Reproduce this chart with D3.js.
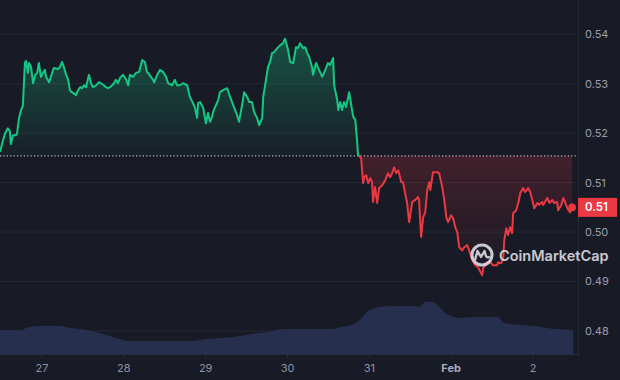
<!DOCTYPE html>
<html><head><meta charset="utf-8">
<script src="https://cdn.jsdelivr.net/npm/d3@7/dist/d3.min.js"></script>
<style>
html,body{margin:0;padding:0;background:#181a25;}
svg{display:block;font-family:Inter,"Noto Sans",sans-serif;}
</style></head><body>
<svg id="chart" width="620" height="380"></svg>
<script>
// ---- data ----
const startTime = new Date(2025, 0, 26, 11, 41); // first sample
const priceHours = [0.0,0.9,1.5,2.3,2.9,3.2,3.8,4.7,5.0,5.6,6.2,6.7,7.3,7.6,8.2,8.5,9.1,9.7,10.3,10.9,11.4,12.0,12.6,13.2,13.5,14.4,15.3,15.8,17.0,17.6,18.2,18.8,19.4,20.0,20.5,21.1,22.3,22.9,23.5,24.1,24.6,25.2,26.1,26.7,27.3,28.2,29.0,29.6,30.5,31.1,31.7,32.3,32.9,33.4,34.0,34.6,35.2,36.1,37.0,37.6,38.1,39.0,39.9,40.8,41.7,42.5,43.1,43.4,44.9,45.2,46.1,46.9,47.8,48.7,49.3,50.5,51.3,51.9,52.8,53.7,54.9,55.7,56.6,57.2,57.8,58.1,58.7,59.6,60.4,61.0,61.6,62.2,62.5,63.1,64.0,64.5,65.4,66.6,67.5,68.4,69.5,70.1,71.0,71.6,72.5,73.1,73.9,74.5,75.4,76.0,76.9,77.2,78.0,78.6,79.2,79.8,80.4,81.3,82.2,83.0,83.6,84.5,85.1,86.0,86.8,87.4,88.0,88.9,89.5,90.1,90.7,91.5,91.8,92.7,93.3,94.5,95.4,96.2,96.8,97.7,98.0,98.9,99.2,99.8,100.3,100.9,101.5,102.4,103.0,103.6,104.2,104.7,105.0,105.9,106.5,106.8,107.4,108.0,108.6,109.1,109.4,110.0,110.6,111.2,112.1,113.0,113.8,114.4,115.0,115.6,116.2,116.8,117.7,118.2,118.8,119.4,120.0,120.9,121.8,122.6,122.9,123.5,124.1,124.7,125.3,125.9,126.2,127.0,128.2,128.8,129.7,130.3,130.9,131.4,132.3,132.9,133.5,134.1,134.7,135.6,135.8,137.0,137.6,138.5,139.4,140.2,141.4,141.7,142.9,143.8,144.6,145.8,146.1,147.0,147.6,147.9,148.5,149.0,149.6,150.2,150.5,151.4,152.0,152.6,153.4,154.0,154.9,155.5,156.1,156.7,157.6,158.1,159.0,159.3,160.5,161.1,162.0,162.5,163.4,163.7,164.6,165.2,165.8,166.4,167.2,167.8];
const prices = [0.5162,0.5186,0.5200,0.5210,0.5204,0.5178,0.5196,0.5196,0.5200,0.5231,0.5247,0.5255,0.5342,0.5346,0.5322,0.5342,0.5334,0.5301,0.5318,0.5322,0.5342,0.5314,0.5322,0.5328,0.5314,0.5303,0.5322,0.5332,0.5330,0.5334,0.5344,0.5332,0.5318,0.5308,0.5287,0.5283,0.5277,0.5287,0.5293,0.5291,0.5297,0.5293,0.5318,0.5301,0.5293,0.5297,0.5303,0.5301,0.5297,0.5293,0.5291,0.5293,0.5297,0.5301,0.5308,0.5301,0.5312,0.5318,0.5308,0.5297,0.5318,0.5314,0.5322,0.5324,0.5348,0.5344,0.5324,0.5322,0.5308,0.5303,0.5318,0.5328,0.5324,0.5314,0.5301,0.5297,0.5308,0.5297,0.5297,0.5301,0.5297,0.5273,0.5261,0.5251,0.5231,0.5261,0.5263,0.5251,0.5220,0.5241,0.5223,0.5233,0.5243,0.5253,0.5267,0.5283,0.5287,0.5291,0.5273,0.5257,0.5237,0.5223,0.5257,0.5283,0.5273,0.5263,0.5263,0.5243,0.5231,0.5216,0.5231,0.5273,0.5308,0.5334,0.5344,0.5362,0.5364,0.5372,0.5378,0.5382,0.5391,0.5368,0.5344,0.5342,0.5374,0.5372,0.5382,0.5372,0.5374,0.5362,0.5354,0.5334,0.5318,0.5342,0.5332,0.5314,0.5328,0.5342,0.5338,0.5352,0.5297,0.5267,0.5247,0.5263,0.5247,0.5263,0.5253,0.5283,0.5257,0.5233,0.5227,0.5186,0.5156,0.5150,0.5099,0.5111,0.5115,0.5099,0.5109,0.5101,0.5061,0.5091,0.5059,0.5089,0.5095,0.5105,0.5119,0.5111,0.5119,0.5131,0.5119,0.5125,0.5101,0.5101,0.5079,0.5059,0.5020,0.5061,0.5065,0.5071,0.5065,0.4990,0.5030,0.5040,0.5085,0.5101,0.5085,0.5121,0.5121,0.5119,0.5091,0.5065,0.5030,0.5020,0.5034,0.5028,0.5010,0.5000,0.4969,0.4963,0.4967,0.4974,0.4963,0.4943,0.4933,0.4929,0.4913,0.4927,0.4939,0.4939,0.4933,0.4933,0.4939,0.4937,0.4949,0.4984,0.5008,0.4994,0.5010,0.4998,0.5038,0.5044,0.5059,0.5079,0.5089,0.5081,0.5089,0.5081,0.5065,0.5048,0.5059,0.5055,0.5061,0.5055,0.5069,0.5059,0.5065,0.5059,0.5061,0.5044,0.5055,0.5069,0.5059,0.5048,0.5040,0.5050];
const openPrice = 0.5154;      // dotted reference line (price 7 days ago)
const lastPriceLabel = "0.51";
const volumeHours = [0,6.5,8.2,11.7,17.3,20.8,25.5,30.2,34.9,37.3,55.7,60.4,68.4,74.2,80.1,83.6,97.4,99.8,103.3,105.6,108.0,111.5,115.9,121.8,122.9,124.7,127.0,128.8,131.1,134.7,139.1,146.1,147.9,156.7,160.2,168.1];
const volumes = [24,24,27,28,28,26,24,20,15,13,13,15,17,20,23,25,25,27,29,34,43,47,48,48,47,52,52,47,40,36,37,37,31,28,26,24]; // $M
const yTicks = [0.48,0.49,0.50,0.51,0.52,0.53,0.54];
const xTickDates = [new Date(2025,0,27),new Date(2025,0,28),new Date(2025,0,29),new Date(2025,0,30),new Date(2025,0,31),new Date(2025,1,1),new Date(2025,1,2)];
const xTickLabels = ["27","28","29","30","31","Feb","2"];

// ---- setup ----
const svg = d3.select("#chart");
const plotRight = 578, plotBottom = 354;
const GREEN = "#16c784", RED = "#ea3943";

const toDate = h => new Date(startTime.getTime() + h * 3600e3);
const x = d3.scaleTime().domain([new Date(2025,0,27), new Date(2025,1,2)]).range([42, 533]);
const y = d3.scaleLinear().domain([0.48, 0.54]).range([331, 34.3]);
const yv = d3.scaleLinear().domain([0, 100]).range([plotBottom, plotBottom - 100]);

const pts = priceHours.map((h, i) => ({t: toDate(h), p: prices[i]}));
const vpts = volumeHours.map((h, i) => ({t: toDate(h), v: volumes[i]}));
const yBase = y(openPrice);

const defs = svg.append("defs");
const gG = defs.append("linearGradient").attr("id","gGreen").attr("gradientUnits","userSpaceOnUse")
  .attr("x1",0).attr("x2",0).attr("y1",40).attr("y2",yBase);
gG.append("stop").attr("offset","0%").attr("stop-color",GREEN).attr("stop-opacity",0.32);
gG.append("stop").attr("offset","100%").attr("stop-color",GREEN).attr("stop-opacity",0.03);
const gR = defs.append("linearGradient").attr("id","gRed").attr("gradientUnits","userSpaceOnUse")
  .attr("x1",0).attr("x2",0).attr("y1",yBase).attr("y2",275);
gR.append("stop").attr("offset","0%").attr("stop-color",RED).attr("stop-opacity",0.2);
gR.append("stop").attr("offset","100%").attr("stop-color",RED).attr("stop-opacity",0.0);
defs.append("clipPath").attr("id","cAbove").append("rect").attr("x",0).attr("y",0).attr("width",plotRight).attr("height",yBase);
defs.append("clipPath").attr("id","cBelow").append("rect").attr("x",0).attr("y",yBase).attr("width",plotRight).attr("height",plotBottom-yBase);

// grid
svg.append("g").selectAll("line").data(yTicks).join("line")
  .attr("x1",0).attr("x2",plotRight).attr("y1",d=>y(d)).attr("y2",d=>y(d))
  .attr("stroke","#252836").attr("stroke-width",1);

// volume
svg.append("path").datum(vpts)
  .attr("d", d3.area().x(d=>x(d.t)).y0(plotBottom).y1(d=>yv(d.v)).curve(d3.curveMonotoneX))
  .attr("fill","#272f4f");

// frame lines
svg.append("line").attr("x1",0).attr("x2",plotRight).attr("y1",plotBottom+0.5).attr("y2",plotBottom+0.5).attr("stroke","#2a2d3a");
svg.append("line").attr("x1",plotRight+0.5).attr("x2",plotRight+0.5).attr("y1",0).attr("y2",plotBottom+2).attr("stroke","#252836");

// areas
const area = d3.area().x(d=>x(d.t)).y0(yBase).y1(d=>y(d.p));
svg.append("path").datum(pts).attr("d",area).attr("fill","url(#gGreen)").attr("clip-path","url(#cAbove)");
svg.append("path").datum(pts).attr("d",area).attr("fill","url(#gRed)").attr("clip-path","url(#cBelow)");

// baseline dotted
svg.append("line").attr("x1",0).attr("x2",plotRight).attr("y1",yBase).attr("y2",yBase)
  .attr("stroke","#b8bcc8").attr("stroke-width",1.2).attr("stroke-dasharray","1.2,2.2");

// lines
const line = d3.line().x(d=>x(d.t)).y(d=>y(d.p));
svg.append("path").datum(pts).attr("d",line).attr("fill","none").attr("stroke",GREEN).attr("stroke-width",2).attr("stroke-linejoin","round").attr("clip-path","url(#cAbove)");
svg.append("path").datum(pts).attr("d",line).attr("fill","none").attr("stroke",RED).attr("stroke-width",2).attr("stroke-linejoin","round").attr("clip-path","url(#cBelow)");

// last point dot
const last = pts[pts.length-1];
svg.append("circle").attr("cx",x(last.t)).attr("cy",y(last.p)).attr("r",3.8).attr("fill",RED);

// watermark
const wm = svg.append("g").attr("opacity",0.85);
wm.append("circle").attr("cx",482).attr("cy",255).attr("r",10).attr("fill","none").attr("stroke","#e6e8ee").attr("stroke-width",3);
wm.append("path").attr("d","M475,260 L477.5,251 L481,257 L484.5,251 L486,256 Q487,258 489,257")
  .attr("fill","none").attr("stroke","#e6e8ee").attr("stroke-width",2.4).attr("stroke-linecap","round").attr("stroke-linejoin","round");
wm.append("text").attr("x",499).attr("y",260.5).attr("fill","#e6e8ee").attr("font-size",14.5).attr("font-weight",600).text("CoinMarketCap");

// y axis labels
svg.append("g").selectAll("text").data(yTicks).join("text")
  .attr("x",585).attr("y",d=>y(d)).attr("dy","0.35em")
  .attr("fill","#9a9fb0").attr("font-size",11).text(d=>d.toFixed(2));

// price label
svg.append("rect").attr("x",578).attr("y",y(last.p)-9.5).attr("width",39).attr("height",19).attr("fill",RED);
svg.append("text").attr("x",585).attr("y",y(last.p)).attr("dy","0.35em").attr("fill","#fff")
  .attr("font-size",11.5).attr("font-weight",600).text(lastPriceLabel);

// x axis ticks + labels
const xa = svg.append("g");
xa.selectAll("line").data(xTickDates).join("line")
  .attr("x1",d=>x(d)).attr("x2",d=>x(d)).attr("y1",plotBottom+1).attr("y2",plotBottom+4).attr("stroke","#2a2d3a");
xa.selectAll("text").data(xTickDates).join("text")
  .attr("x",d=>x(d)).attr("y",368).attr("dy","0.35em").attr("text-anchor","middle")
  .attr("fill",(d,i)=>xTickLabels[i]==="Feb"?"#a6abbb":"#8e93a4")
  .attr("font-weight",(d,i)=>xTickLabels[i]==="Feb"?700:400)
  .attr("font-size",11).text((d,i)=>xTickLabels[i]);
</script>
</body></html>
